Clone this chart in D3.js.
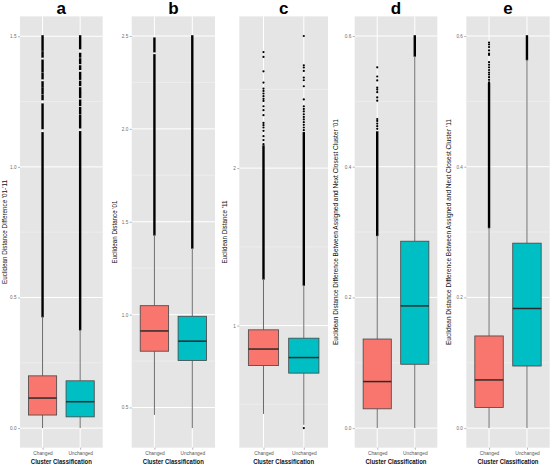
<!DOCTYPE html>
<html>
<head>
<meta charset="utf-8">
<script src="https://cdn.jsdelivr.net/npm/d3@7"></script>
<style>
  html, body { margin: 0; padding: 0; background: #fff; }
  svg { display: block; }
  text { font-family: "Liberation Sans", Arial, sans-serif; }
</style>
</head>
<body>
<svg id="chart" width="553" height="466"></svg>
<script>
// ---------------- DATA ----------------
const panelLetters = ["a", "b", "c", "d", "e"];
const categories = ["Changed", "Unchanged"];
const yTitles = [
  "Euclidean Distance Difference '01-'11",
  "Euclidean Distance '01",
  "Euclidean Distance '11",
  "Euclidean Distance Difference Between Assigned and Next Closest Cluster '01",
  "Euclidean Distance Difference Between Assigned and Next Closest Cluster '11"
];
const xTitle = "Cluster Classification";

// box stats per category: [lowerWhisker, q1, median, q3, upperWhisker]
const statsA = [[0.0, 0.050, 0.115, 0.200, 0.427], [0.0, 0.043, 0.101, 0.181, 0.377]];
const statsB = [[0.460, 0.803, 0.912, 1.048, 1.430], [0.389, 0.753, 0.857, 0.991, 1.359]];
const statsC = [[0.439, 0.746, 0.851, 0.973, 1.297], [0.370, 0.698, 0.797, 0.920, 1.258]];
const statsD = [[0.0, 0.0295, 0.0712, 0.1363, 0.295], [0.0, 0.0977, 0.187, 0.286, 0.5695]];
const statsE = [[0.0, 0.0315, 0.0737, 0.141, 0.307], [0.0, 0.095, 0.183, 0.283, 0.564]];

// dense runs of overlapping outliers: [from, to]
const runsA = [
  [[0.427, 1.130], [1.147, 1.240], [1.258, 1.274], [1.281, 1.300], [1.306, 1.325], [1.338, 1.357], [1.364, 1.383], [1.389, 1.408], [1.421, 1.440], [1.447, 1.501]],
  [[0.377, 1.134], [1.150, 1.197], [1.204, 1.227], [1.236, 1.255], [1.266, 1.281], [1.285, 1.302], [1.312, 1.327], [1.336, 1.361], [1.374, 1.386], [1.396, 1.413], [1.421, 1.434], [1.453, 1.501]]
];
const runsB = [
  [[1.430, 2.398], [2.416, 2.488]],
  [[1.359, 2.500]]
];
const runsC = [
  [[1.297, 2.140]],
  [[1.258, 2.224]]
];
const runsD = [
  [[0.295, 0.453]],
  [[0.5695, 0.600]]
];
const runsE = [
  [[0.307, 0.527]],
  [[0.564, 0.600]]
];

// isolated outlier points
const dotsA = [[], []];
const dotsB = [[], []];
const dotsC = [
  [2.737, 2.706, 2.615, 2.543, 2.505, 2.490, 2.474, 2.457, 2.440, 2.427, 2.393, 2.368, 2.336, 2.287, 2.273, 2.258, 2.237, 2.203, 2.178, 2.152],
  [2.839, 2.653, 2.639, 2.617, 2.575, 2.558, 2.520, 2.436, 2.393, 2.376, 2.360, 2.342, 2.325, 2.309, 2.292, 2.275, 2.258, 2.241, 0.349]
];
const dotsD = [
  [0.552, 0.538, 0.532, 0.521, 0.518, 0.514, 0.506, 0.501, 0.473, 0.470, 0.466, 0.462, 0.458],
  []
];
const dotsE = [
  [0.590, 0.587, 0.583, 0.578, 0.573, 0.571, 0.560, 0.556, 0.552, 0.548, 0.544, 0.541, 0.537, 0.533, 0.529],
  []
];

// y ticks
const ticksA = [0, 0.5, 1.0, 1.5], tickLabelsA = ["0.0", "0.5", "1.0", "1.5"], minorA = [0.25, 0.75, 1.25];
const ticksB = [0.5, 1.0, 1.5, 2.0, 2.5], tickLabelsB = ["0.5", "1.0", "1.5", "2.0", "2.5"], minorB = [0.75, 1.25, 1.75, 2.25];
const ticksC = [1, 2], tickLabelsC = ["1", "2"], minorC = [0.5, 1.5, 2.5];
const ticksD = [0, 0.2, 0.4, 0.6], tickLabelsD = ["0.0", "0.2", "0.4", "0.6"], minorD = [0.1, 0.3, 0.5];
const ticksE = [0, 0.2, 0.4, 0.6], tickLabelsE = ["0.0", "0.2", "0.4", "0.6"], minorE = [0.1, 0.3, 0.5];

const fillColors = ["#F8766D", "#00BFC4"];

// ---------------- LAYOUT ----------------
const panelX = [[20, 102.7], [131.7, 215], [239.3, 328], [354.7, 437.3], [466.3, 549.7]];
const panelTop = 16.4, panelBottom = 447.7;
const yTitleX = [4.6, 114, 224.5, 335.5, 448];
const yTitleLen = [104, 63, 63, 226, 226];

const panelData = [
  {stats: statsA, runs: runsA, dots: dotsA, ticks: ticksA, labels: tickLabelsA, minor: minorA},
  {stats: statsB, runs: runsB, dots: dotsB, ticks: ticksB, labels: tickLabelsB, minor: minorB},
  {stats: statsC, runs: runsC, dots: dotsC, ticks: ticksC, labels: tickLabelsC, minor: minorC},
  {stats: statsD, runs: runsD, dots: dotsD, ticks: ticksD, labels: tickLabelsD, minor: minorD},
  {stats: statsE, runs: runsE, dots: dotsE, ticks: ticksE, labels: tickLabelsE, minor: minorE}
];

const svg = d3.select("#chart");

panelData.forEach((p, pi) => {
  const [x0, x1] = panelX[pi];
  const allVals = [];
  p.stats.forEach(s => allVals.push(...s));
  p.runs.forEach(rs => rs.forEach(r => allVals.push(...r)));
  p.dots.forEach(ds => allVals.push(...ds));
  const [mn, mx] = d3.extent(allVals);
  const span = mx - mn;
  const y = d3.scaleLinear().domain([mn - 0.05 * span, mx + 0.05 * span]).range([panelBottom, panelTop]);
  const x = d3.scaleLinear().domain([0.4, 2.6]).range([x0, x1]);
  const unit = x(1) - x(0);

  const g = svg.append("g");

  // background
  g.append("rect").attr("x", x0).attr("y", panelTop).attr("width", x1 - x0).attr("height", panelBottom - panelTop)
    .attr("fill", "#E5E5E5");

  // minor grid
  g.selectAll(".minor").data(p.minor).enter().append("line")
    .attr("x1", x0).attr("x2", x1).attr("y1", d => y(d)).attr("y2", d => y(d))
    .attr("stroke", "#F2F2F2").attr("stroke-width", 0.6);
  // major grid
  g.selectAll(".major").data(p.ticks).enter().append("line")
    .attr("x1", x0).attr("x2", x1).attr("y1", d => y(d)).attr("y2", d => y(d))
    .attr("stroke", "#FFFFFF").attr("stroke-width", 1);
  g.selectAll(".vmajor").data([1, 2]).enter().append("line")
    .attr("x1", d => x(d)).attr("x2", d => x(d)).attr("y1", panelTop).attr("y2", panelBottom)
    .attr("stroke", "#FFFFFF").attr("stroke-width", 1);

  categories.forEach((cat, ci) => {
    const cx = x(ci + 1);
    const s = p.stats[ci];
    const halfW = unit * 0.75 / 2;

    // outliers: dense runs
    g.selectAll(null).data(p.runs[ci]).enter().append("line")
      .attr("x1", cx).attr("x2", cx)
      .attr("y1", d => y(d[0]) + 0.8).attr("y2", d => y(d[1]) - 0.8)
      .attr("stroke", "#000").attr("stroke-width", 2.4);
    // isolated outliers
    g.selectAll(null).data(p.dots[ci]).enter().append("circle")
      .attr("cx", cx).attr("cy", d => y(d)).attr("r", 1.1).attr("fill", "#000");

    // whiskers
    g.append("line").attr("x1", cx).attr("x2", cx).attr("y1", y(s[0])).attr("y2", y(s[1]))
      .attr("stroke", "#6b6b6b").attr("stroke-width", 1);
    g.append("line").attr("x1", cx).attr("x2", cx).attr("y1", y(s[3])).attr("y2", y(s[4]))
      .attr("stroke", "#6b6b6b").attr("stroke-width", 1);
    // box
    g.append("rect").attr("x", cx - halfW).attr("y", y(s[3])).attr("width", 2 * halfW).attr("height", y(s[1]) - y(s[3]))
      .attr("fill", fillColors[ci]).attr("stroke", "#444").attr("stroke-width", 0.8);
    // median
    g.append("line").attr("x1", cx - halfW).attr("x2", cx + halfW).attr("y1", y(s[2])).attr("y2", y(s[2]))
      .attr("stroke", "#2b2b2b").attr("stroke-width", 1.5);
  });

  // y axis
  const yAxis = d3.axisLeft(y).tickValues(p.ticks).tickFormat((d, i) => p.labels[i]).tickSize(2).tickPadding(1.5);
  const ya = svg.append("g").attr("transform", `translate(${x0},0)`).call(yAxis);
  ya.select(".domain").remove();
  ya.selectAll("line").attr("stroke", "#7f7f7f").attr("stroke-width", 0.6);
  ya.selectAll("text").attr("font-size", 4.6).attr("fill", "#6a6a6a").attr("font-family", "Liberation Sans, Arial, sans-serif");

  // x axis
  const xAxis = d3.axisBottom(x).tickValues([1, 2]).tickFormat((d, i) => categories[i]).tickSize(2).tickPadding(2);
  const xa = svg.append("g").attr("transform", `translate(0,${panelBottom})`).call(xAxis);
  xa.select(".domain").remove();
  xa.selectAll("line").attr("stroke", "#7f7f7f").attr("stroke-width", 0.6);
  xa.selectAll("text").attr("font-size", 4.8).attr("fill", "#555").attr("font-family", "Liberation Sans, Arial, sans-serif");

  // x title
  svg.append("text").attr("x", (x0 + x1) / 2).attr("y", 463.6).attr("text-anchor", "middle")
    .attr("font-size", 7.3).attr("font-weight", "bold").attr("fill", "#111")
    .attr("textLength", 61).attr("lengthAdjust", "spacingAndGlyphs")
    .text(xTitle);

  // y title
  const cy = (panelTop + panelBottom) / 2;
  svg.append("text").attr("transform", `translate(${yTitleX[pi]},${cy}) rotate(-90)`)
    .attr("text-anchor", "middle").attr("dominant-baseline", "central")
    .attr("font-size", 6.8).attr("fill", "#111")
    .attr("textLength", yTitleLen[pi]).attr("lengthAdjust", "spacingAndGlyphs")
    .text(yTitles[pi]);

  // panel title
  svg.append("text").attr("x", (x0 + x1) / 2).attr("y", 14).attr("text-anchor", "middle")
    .attr("font-size", 17).attr("font-weight", "bold").attr("fill", "#000")
    .text(panelLetters[pi]);
});
</script>
</body>
</html>
